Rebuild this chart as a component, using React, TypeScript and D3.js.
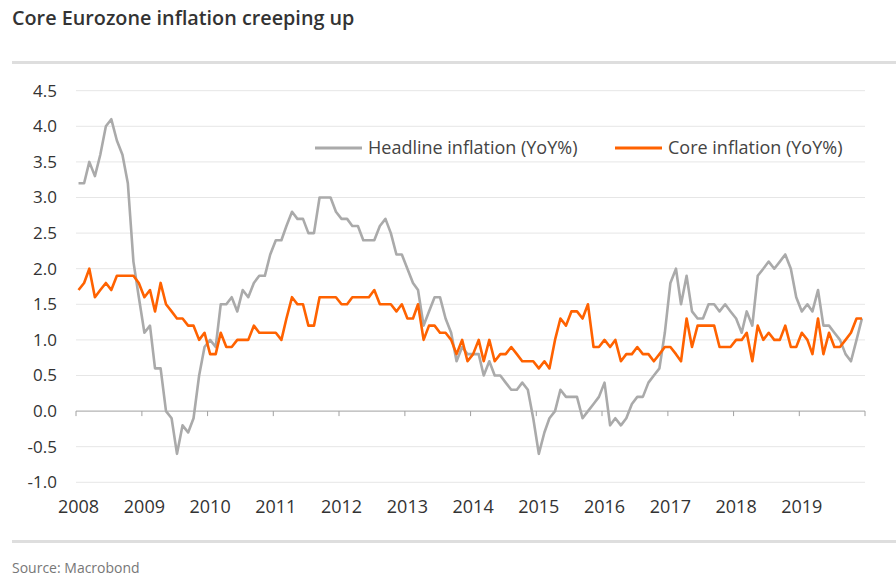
import { useEffect, useRef } from "react"
import * as d3 from "d3"

// monthly YoY %, Jan 2008 .. Dec 2019
const headline = [
  3.2, 3.2, 3.5, 3.3, 3.6, 4.0, 4.1, 3.8, 3.6, 3.2, 2.1, 1.6,
  1.1, 1.2, 0.6, 0.6, 0.0, -0.1, -0.6, -0.2, -0.3, -0.1, 0.5, 0.9,
  1.0, 0.9, 1.5, 1.5, 1.6, 1.4, 1.7, 1.6, 1.8, 1.9, 1.9, 2.2,
  2.4, 2.4, 2.6, 2.8, 2.7, 2.7, 2.5, 2.5, 3.0, 3.0, 3.0, 2.8,
  2.7, 2.7, 2.6, 2.6, 2.4, 2.4, 2.4, 2.6, 2.7, 2.5, 2.2, 2.2,
  2.0, 1.8, 1.7, 1.2, 1.4, 1.6, 1.6, 1.3, 1.1, 0.7, 0.9, 0.8,
  0.8, 0.8, 0.5, 0.7, 0.5, 0.5, 0.4, 0.3, 0.3, 0.4, 0.3, -0.1,
  -0.6, -0.3, -0.1, 0.0, 0.3, 0.2, 0.2, 0.2, -0.1, 0.0, 0.1, 0.2,
  0.4, -0.2, -0.1, -0.2, -0.1, 0.1, 0.2, 0.2, 0.4, 0.5, 0.6, 1.1,
  1.8, 2.0, 1.5, 1.9, 1.4, 1.3, 1.3, 1.5, 1.5, 1.4, 1.5, 1.4,
  1.3, 1.1, 1.4, 1.2, 1.9, 2.0, 2.1, 2.0, 2.1, 2.2, 2.0, 1.6,
  1.4, 1.5, 1.4, 1.7, 1.2, 1.2, 1.1, 1.0, 0.8, 0.7, 1.0, 1.3,
]

const core = [
  1.7, 1.8, 2.0, 1.6, 1.7, 1.8, 1.7, 1.9, 1.9, 1.9, 1.9, 1.8,
  1.6, 1.7, 1.4, 1.8, 1.5, 1.4, 1.3, 1.3, 1.2, 1.2, 1.0, 1.1,
  0.8, 0.8, 1.1, 0.9, 0.9, 1.0, 1.0, 1.0, 1.2, 1.1, 1.1, 1.1,
  1.1, 1.0, 1.3, 1.6, 1.5, 1.5, 1.2, 1.2, 1.6, 1.6, 1.6, 1.6,
  1.5, 1.5, 1.6, 1.6, 1.6, 1.6, 1.7, 1.5, 1.5, 1.5, 1.4, 1.5,
  1.3, 1.3, 1.5, 1.0, 1.2, 1.2, 1.1, 1.1, 1.0, 0.8, 1.0, 0.7,
  0.8, 1.0, 0.7, 1.0, 0.7, 0.8, 0.8, 0.9, 0.8, 0.7, 0.7, 0.7,
  0.6, 0.7, 0.6, 1.0, 1.3, 1.2, 1.4, 1.4, 1.3, 1.5, 0.9, 0.9,
  1.0, 0.9, 1.0, 0.7, 0.8, 0.8, 0.9, 0.8, 0.8, 0.7, 0.8, 0.9,
  0.9, 0.8, 0.7, 1.3, 0.9, 1.2, 1.2, 1.2, 1.2, 0.9, 0.9, 0.9,
  1.0, 1.0, 1.1, 0.7, 1.2, 1.0, 1.1, 1.0, 1.0, 1.2, 0.9, 0.9,
  1.1, 1.0, 0.8, 1.3, 0.8, 1.1, 0.9, 0.9, 1.0, 1.1, 1.3, 1.3,
]

const yTicks = [-1.0, -0.5, 0.0, 0.5, 1.0, 1.5, 2.0, 2.5, 3.0, 3.5, 4.0, 4.5]
const yearLabels = ["2008", "2009", "2010", "2011", "2012", "2013", "2014", "2015", "2016", "2017", "2018", "2019"]
const seriesNames = ["Headline inflation (YoY%)", "Core inflation (YoY%)"]
const colors = ["#aaaaaa", "#ff6200"]

const font = "'Open Sans', 'DejaVu Sans', sans-serif"

export default function App() {
  const svgRef = useRef<SVGSVGElement>(null)

  useEffect(() => {
    if (!svgRef.current) return
    const width = 896
    const height = 582

    const svg = d3.select(svgRef.current).attr("width", width).attr("height", height)
    svg.selectAll("*").remove()

    const x = d3
      .scaleTime()
      .domain([new Date(2008, 0, 1), new Date(2020, 0, 1)])
      .range([76, 865])
    const y = d3.scaleLinear().domain([-1, 4.5]).range([482.3, 90.7])

    const dateOf = (i: number) => new Date(2008, i, 15)

    // title + separators
    svg.append("text")
      .attr("x", 12)
      .attr("y", 25)
      .attr("font-family", font)
      .attr("font-size", 19.8)
      .attr("font-weight", 600)
      .attr("fill", "#333")
      .text("Core Eurozone inflation creeping up")

    svg.append("rect").attr("x", 12).attr("y", 61).attr("width", width - 12).attr("height", 3).attr("fill", "#dedede")
    svg.append("rect").attr("x", 12).attr("y", 540).attr("width", width - 12).attr("height", 3).attr("fill", "#dedede")

    svg.append("text")
      .attr("x", 12)
      .attr("y", 573)
      .attr("font-family", font)
      .attr("font-size", 14)
      .attr("fill", "#777")
      .text("Source: Macrobond")

    // gridlines
    const g = svg.append("g")
    g.selectAll(".grid")
      .data(yTicks.filter((t) => t !== 0))
      .enter()
      .append("line")
      .attr("x1", 76)
      .attr("x2", 865)
      .attr("y1", (d) => y(d))
      .attr("y2", (d) => y(d))
      .attr("stroke", "#e6e6e6")
      .attr("stroke-width", 1)

    // y labels
    g.selectAll(".ylab")
      .data(yTicks)
      .enter()
      .append("text")
      .attr("x", 57)
      .attr("y", (d) => y(d))
      .attr("dy", "0.35em")
      .attr("text-anchor", "end")
      .attr("font-family", font)
      .attr("font-size", 17)
      .attr("fill", "#333")
      .text((d) => d.toFixed(1))

    // zero axis with year ticks
    const xAxis = g.append("g").attr("transform", `translate(0,${y(0)})`)
    xAxis.append("line").attr("x1", 76).attr("x2", 865).attr("stroke", "#a0a0a0")
    const years = d3.range(2008, 2021)
    xAxis.selectAll(".tick")
      .data(years)
      .enter()
      .append("line")
      .attr("x1", (d) => x(new Date(d, 0, 1)))
      .attr("x2", (d) => x(new Date(d, 0, 1)))
      .attr("y1", 0)
      .attr("y2", 5)
      .attr("stroke", "#a0a0a0")

    g.selectAll(".xlab")
      .data(yearLabels)
      .enter()
      .append("text")
      .attr("x", (d) => x(new Date(+d, 0, 1)) + 2.5)
      .attr("y", 513)
      .attr("text-anchor", "middle")
      .attr("font-family", font)
      .attr("font-size", 18)
      .attr("fill", "#333")
      .text((d) => d)

    // lines
    const line = d3
      .line<number>()
      .x((_, i) => x(dateOf(i)))
      .y((d) => y(d))

    ;[headline, core].forEach((s, k) => {
      g.append("path")
        .datum(s)
        .attr("d", line)
        .attr("fill", "none")
        .attr("stroke", colors[k])
        .attr("stroke-width", 2.6)
        .attr("stroke-linejoin", "round")
    })

    // legend
    const legendX = [315, 615]
    seriesNames.forEach((name, k) => {
      const lg = g.append("g").attr("transform", `translate(${legendX[k]},148)`)
      lg.append("line").attr("x1", 0).attr("x2", 47).attr("stroke", colors[k]).attr("stroke-width", 3)
      lg.append("text")
        .attr("x", 53)
        .attr("dy", "0.35em")
        .attr("font-family", font)
        .attr("font-size", 18)
        .attr("fill", "#444")
        .text(name)
    })
  }, [])

  return <svg ref={svgRef} style={{ position: "absolute", left: 0, top: 0 }} />
}
